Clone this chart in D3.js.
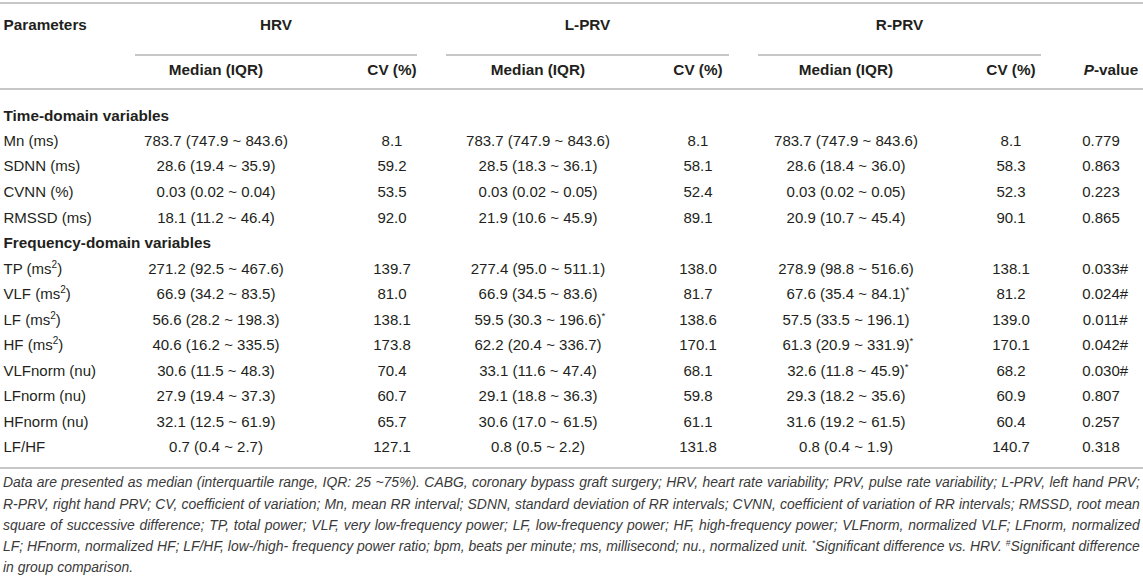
<!DOCTYPE html>
<html>
<head>
<meta charset="utf-8">
<script src="https://cdn.jsdelivr.net/npm/d3@7"></script>
<style>
  html, body { margin: 0; padding: 0; background: #fff; }
  svg { display: block; }
  text { font-family: "Liberation Sans", Arial, Helvetica, sans-serif; fill: #231f20; }
</style>
</head>
<body>
<svg id="chart" width="1143" height="576"></svg>
<script>
// ---------------- DATA ----------------
const groupHeaders = ["HRV", "L-PRV", "R-PRV"];
const subHeaders = ["Median (IQR)", "CV (%)"];
const sections = ["Time-domain variables", "Frequency-domain variables"];
const sectionOf = [0, 0, 0, 0, 1, 1, 1, 1, 1, 1, 1, 1];
const params = ["Mn (ms)", "SDNN (ms)", "CVNN (%)", "RMSSD (ms)", "TP (ms^2)", "VLF (ms^2)", "LF (ms^2)", "HF (ms^2)",
                "VLFnorm (nu)", "LFnorm (nu)", "HFnorm (nu)", "LF/HF"];
const decimals = [1, 1, 2, 1, 1, 1, 1, 1, 1, 1, 1, 1];

const hrvMed = [783.7, 28.6, 0.03, 18.1, 271.2, 66.9, 56.6, 40.6, 30.6, 27.9, 32.1, 0.7];
const hrvLo  = [747.9, 19.4, 0.02, 11.2, 92.5, 34.2, 28.2, 16.2, 11.5, 19.4, 12.5, 0.4];
const hrvHi  = [843.6, 35.9, 0.04, 46.4, 467.6, 83.5, 198.3, 335.5, 48.3, 37.3, 61.9, 2.7];
const hrvCV  = [8.1, 59.2, 53.5, 92.0, 139.7, 81.0, 138.1, 173.8, 70.4, 60.7, 65.7, 127.1];

const lprvMed = [783.7, 28.5, 0.03, 21.9, 277.4, 66.9, 59.5, 62.2, 33.1, 29.1, 30.6, 0.8];
const lprvLo  = [747.9, 18.3, 0.02, 10.6, 95.0, 34.5, 30.3, 20.4, 11.6, 18.8, 17.0, 0.5];
const lprvHi  = [843.6, 36.1, 0.05, 45.9, 511.1, 83.6, 196.6, 336.7, 47.4, 36.3, 61.5, 2.2];
const lprvCV  = [8.1, 58.1, 52.4, 89.1, 138.0, 81.7, 138.6, 170.1, 68.1, 59.8, 61.1, 131.8];
const lprvStar = [0, 0, 0, 0, 0, 0, 1, 0, 0, 0, 0, 0];

const rprvMed = [783.7, 28.6, 0.03, 20.9, 278.9, 67.6, 57.5, 61.3, 32.6, 29.3, 31.6, 0.8];
const rprvLo  = [747.9, 18.4, 0.02, 10.7, 98.8, 35.4, 33.5, 20.9, 11.8, 18.2, 19.2, 0.4];
const rprvHi  = [843.6, 36.0, 0.05, 45.4, 516.6, 84.1, 196.1, 331.9, 45.9, 35.6, 61.5, 1.9];
const rprvCV  = [8.1, 58.3, 52.3, 90.1, 138.1, 81.2, 139.0, 170.1, 68.2, 60.9, 60.4, 140.7];
const rprvStar = [0, 0, 0, 0, 0, 1, 0, 1, 1, 0, 0, 0];

const pValue = [0.779, 0.863, 0.223, 0.865, 0.033, 0.024, 0.011, 0.042, 0.030, 0.807, 0.257, 0.318];
const pSig   = [0, 0, 0, 0, 1, 1, 1, 1, 1, 0, 0, 0];

const footLines = [
  "Data are presented as median (interquartile range, IQR: 25 ~75%). CABG, coronary bypass graft surgery; HRV, heart rate variability; PRV, pulse rate variability; L-PRV, left hand PRV;",
  "R-PRV, right hand PRV; CV, coefficient of variation; Mn, mean RR interval; SDNN, standard deviation of RR intervals; CVNN, coefficient of variation of RR intervals; RMSSD, root mean",
  "square of successive difference; TP, total power; VLF, very low-frequency power; LF, low-frequency power; HF, high-frequency power; VLFnorm, normalized VLF; LFnorm, normalized",
  "LF; HFnorm, normalized HF; LF/HF, low-/high- frequency power ratio; bpm, beats per minute; ms, millisecond; nu., normalized unit. ^*Significant difference vs. HRV. ^#Significant difference",
  "in group comparison."
];

// ---------------- LAYOUT ----------------
const W = 1143, H = 576;
const svg = d3.select("#chart");

const lineColor = "#b4b4b4";
const bodySize = 15, headSize = 15.3;

const rowKeys = [];
sections.forEach((s, si) => {
  rowKeys.push({ type: "section", label: s });
  params.forEach((p, i) => { if (sectionOf[i] === si) rowKeys.push({ type: "param", i }); });
});
const y = d3.scalePoint().domain(d3.range(rowKeys.length)).range([115, 447]);

const colKeys = ["hrvMed", "hrvCV", "lprvMed", "lprvCV", "rprvMed", "rprvCV", "p"];
const x = d3.scaleOrdinal().domain(colKeys).range([216, 392, 538, 698, 846, 1011, 1101]);
const spanX = d3.scaleOrdinal().domain(groupHeaders).range([[135, 417], [446, 729], [758, 1041]]);

const yTop = 3, yGroup = 24, ySpan = 55, ySub = 69, yHead = 89, yBottom = 468;

function hline(y0, x0, x1) {
  svg.append("line").attr("x1", x0).attr("x2", x1).attr("y1", y0).attr("y2", y0)
    .attr("stroke", lineColor).attr("stroke-width", 1.6);
}
hline(yTop, 0, W);
hline(yHead, 0, W);
hline(yBottom, 0, W);
groupHeaders.forEach(g => { const s = spanX(g); hline(ySpan, s[0], s[1]); });

// rich text: "^x" marks a superscript character
function addRich(sel, str, supSize, shift) {
  const parts = str.split(/(\^.)/);
  let sup = false;
  parts.forEach(p => {
    if (!p) return;
    if (p[0] === "^") {
      sel.append("tspan").attr("font-size", supSize).attr("dy", -shift).text(p[1]);
      sup = true;
    } else {
      const t = sel.append("tspan").text(p);
      if (sup) { t.attr("dy", shift); sup = false; }
    }
  });
}

// cell centred on its main text; a trailing suffix hangs to the right
function cell(cx, cy, main, suffix, suffixSup) {
  const t = svg.append("text").attr("y", cy).attr("dy", "0.36em").attr("font-size", bodySize);
  t.append("tspan").text(main);
  const w = t.node().getComputedTextLength();
  t.attr("x", cx - w / 2);
  if (suffix) {
    if (suffixSup) {
      t.append("tspan").attr("font-size", 9.5).attr("dy", -6).text(suffix);
    } else {
      t.append("tspan").text(suffix);
    }
  }
}

// headers
svg.append("text").attr("x", 3.5).attr("y", yGroup).attr("dy", "0.36em")
  .attr("font-size", headSize).attr("font-weight", "bold").text("Parameters");
svg.selectAll("text.grp").data(groupHeaders).join("text").attr("class", "grp")
  .attr("x", d => (spanX(d)[0] + spanX(d)[1]) / 2).attr("y", yGroup).attr("dy", "0.36em")
  .attr("text-anchor", "middle").attr("font-size", headSize).attr("font-weight", "bold").text(d => d);
const subCols = colKeys.slice(0, 6);
svg.selectAll("text.sub").data(subCols).join("text").attr("class", "sub")
  .attr("x", d => x(d)).attr("y", ySub).attr("dy", "0.36em")
  .attr("text-anchor", "middle").attr("font-size", headSize).attr("font-weight", "bold")
  .text((d, i) => subHeaders[i % 2]);
const pHead = svg.append("text").attr("x", x("p") + 10).attr("y", ySub).attr("dy", "0.36em")
  .attr("text-anchor", "middle").attr("font-size", headSize).attr("font-weight", "bold");
pHead.append("tspan").attr("font-style", "italic").text("P");
pHead.append("tspan").text("-value");

// body
const fmtRange = (m, lo, hi, d) => `${m.toFixed(d)} (${lo.toFixed(d)} ~ ${hi.toFixed(d)})`;
rowKeys.forEach((r, ri) => {
  const yy = y(ri);
  if (r.type === "section") {
    svg.append("text").attr("x", 3.5).attr("y", yy).attr("dy", "0.36em")
      .attr("font-size", headSize).attr("font-weight", "bold").text(r.label);
    return;
  }
  const i = r.i, d = decimals[i];
  const lab = svg.append("text").attr("x", 3.5).attr("y", yy).attr("dy", "0.36em").attr("font-size", bodySize);
  addRich(lab, params[i], 10, 6);
  cell(x("hrvMed"), yy, fmtRange(hrvMed[i], hrvLo[i], hrvHi[i], d));
  cell(x("hrvCV"), yy, hrvCV[i].toFixed(1));
  cell(x("lprvMed"), yy, fmtRange(lprvMed[i], lprvLo[i], lprvHi[i], d), lprvStar[i] ? "*" : "", true);
  cell(x("lprvCV"), yy, lprvCV[i].toFixed(1));
  cell(x("rprvMed"), yy, fmtRange(rprvMed[i], rprvLo[i], rprvHi[i], d), rprvStar[i] ? "*" : "", true);
  cell(x("rprvCV"), yy, rprvCV[i].toFixed(1));
  cell(x("p"), yy, pValue[i].toFixed(3), pSig[i] ? "#" : "", false);
});

// footnote: condensed by a horizontal scale, full lines justified with word-spacing
const footX0 = 3, footX1 = 1140, footW = footX1 - footX0;
const footY = d3.scalePoint().domain(d3.range(footLines.length)).range([482, 567]);
const fg = svg.append("g");
const footNodes = footLines.map((s, i) => {
  const t = fg.append("text").attr("x", 0).attr("y", footY(i)).attr("dy", "0.36em")
    .attr("font-size", 15).attr("font-style", "italic")
    .style("fill", "#3a3a3a");
  addRich(t, s, 9, 5);
  return t;
});
const naturals = footNodes.map(t => t.node().getComputedTextLength());
const r = d3.min(naturals.slice(0, 4), w => footW / w);
fg.attr("transform", `translate(${footX0},0) scale(${r},1)`);
footNodes.forEach((t, i) => {
  if (i < 4) {
    const spaces = (footLines[i].match(/ /g) || []).length;
    const extra = footW / r - naturals[i];
    t.style("word-spacing", (extra / spaces) + "px");
  }
});
</script>
</body>
</html>
